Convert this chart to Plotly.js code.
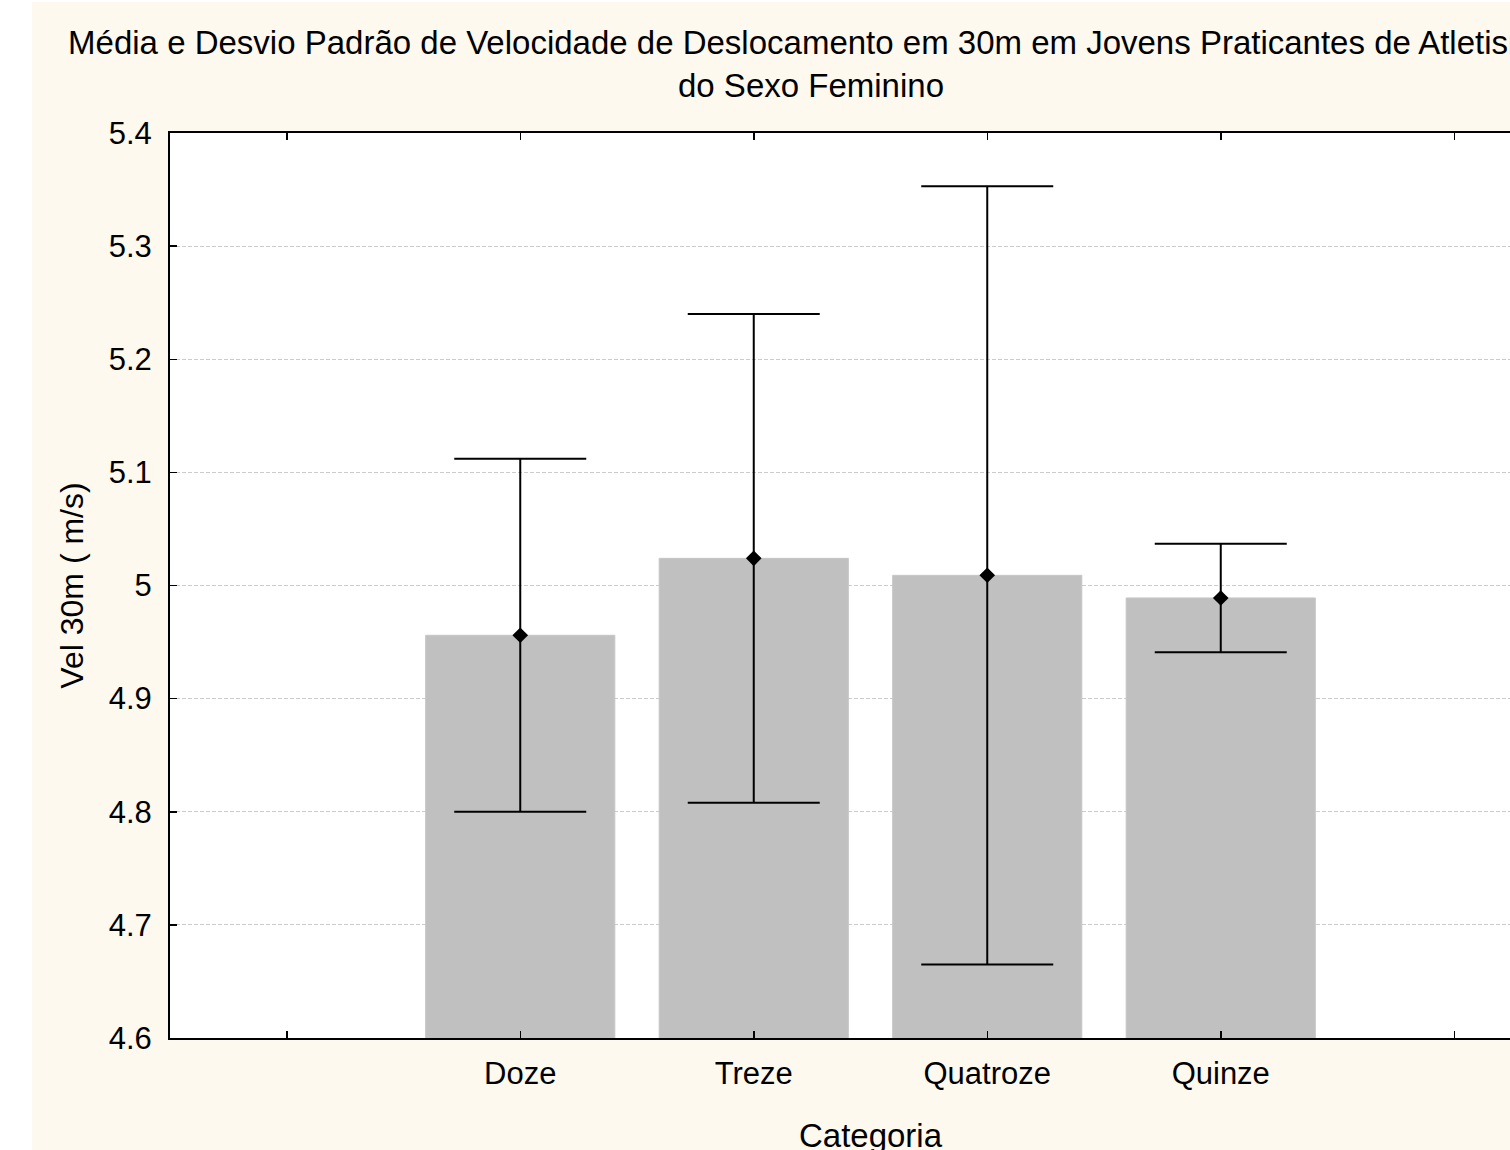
<!DOCTYPE html>
<html>
<head>
<meta charset="utf-8">
<script src="https://cdn.plot.ly/plotly-3.0.1.min.js"></script>
<style>
  html, body { margin: 0; padding: 0; background: #ffffff; overflow: hidden; width: 1510px; height: 1150px; }
  #chart { position: absolute; left: 32px; top: 2px; width: 1640px; height: 1170px; }
</style>
</head>
<body>
<div id="chart"></div>
<script>
// Mean and standard deviation of 30 m sprint velocity (m/s) by age category
const categories = ['Doze', 'Treze', 'Quatroze', 'Quinze'];
const meanVel = [4.956, 5.024, 5.009, 4.989];
const sdVel = [0.156, 0.216, 0.344, 0.048];
const yTicks = [4.6, 4.7, 4.8, 4.9, 5.0, 5.1, 5.2, 5.3, 5.4];

// one empty slot on each side of the categories
const slotLabels = [''].concat(categories, ['']);
const slotPos = slotLabels.map((_, i) => i);
const catPos = categories.map((_, i) => i + 1);

const FONT = 'Liberation Sans, Arial, sans-serif';

const bars = {
  type: 'bar',
  x: catPos,
  y: meanVel,
  width: 0.81,
  marker: { color: '#c0c0c0', line: { color: '#c6c6c6', width: 1 } },
  hoverinfo: 'skip',
  showlegend: false
};

const means = {
  type: 'scatter',
  mode: 'markers',
  x: catPos,
  y: meanVel,
  marker: { symbol: 'diamond', size: 12, color: '#000000' },
  error_y: { type: 'data', array: sdVel, visible: true, color: '#000000', thickness: 2, width: 66 },
  text: categories,
  showlegend: false
};

const layout = {
  width: 1640,
  height: 1170,
  paper_bgcolor: '#fef9ee',
  plot_bgcolor: '#ffffff',
  margin: { l: 138, r: 101, t: 131, b: 134, pad: 0 },
  font: { family: FONT, color: '#000000' },
  title: {
    text: 'Média e Desvio Padrão de Velocidade de Deslocamento em 30m em Jovens Praticantes de Atletismo<br>do Sexo Feminino',
    font: { family: FONT, size: 33, color: '#000000' },
    xref: 'container', x: 0.475, xanchor: 'center',
    yref: 'container', y: 1 - 52 / 1170, yanchor: 'top'
  },
  xaxis: {
    range: [-0.5, 5.5],
    tickmode: 'array',
    tickvals: slotPos,
    ticktext: slotLabels,
    ticks: 'inside', ticklen: 7, tickwidth: 1.5, tickcolor: '#000000',
    showline: true, linecolor: '#000000', linewidth: 2, mirror: 'ticks',
    showgrid: false, zeroline: false,
    tickfont: { family: FONT, size: 31, color: '#000000' },
    ticklabelstandoff: 7,
    title: { text: 'Categoria', font: { family: FONT, size: 33, color: '#000000' }, standoff: 34 }
  },
  yaxis: {
    range: [4.6, 5.4],
    tickmode: 'array',
    tickvals: yTicks,
    ticktext: yTicks.map(v => String(+v.toFixed(1))),
    ticks: 'inside', ticklen: 7, tickwidth: 1.5, tickcolor: '#000000',
    showline: true, linecolor: '#000000', linewidth: 2, mirror: 'ticks',
    showgrid: true, gridcolor: '#cccccc', gridwidth: 1, griddash: '4px,2px',
    zeroline: false,
    tickfont: { family: FONT, size: 31, color: '#000000' },
    ticklabelstandoff: 10,
    title: { text: 'Vel 30m ( m/s)', font: { family: FONT, size: 32, color: '#000000' }, standoff: 15 }
  },
  bargap: 0.19
};

Plotly.newPlot('chart', [bars, means], layout, { displayModeBar: false, staticPlot: true });
</script>
</body>
</html>
